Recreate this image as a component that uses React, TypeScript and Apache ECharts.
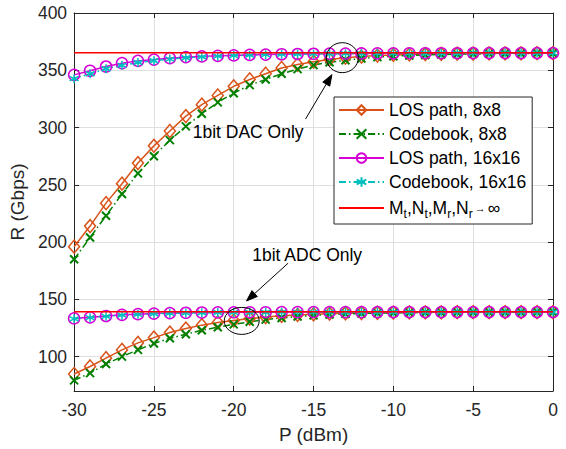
import React, { useEffect, useRef } from "react";
import * as echarts from "echarts";

// Transmit power P (dBm)
const P = [-30, -29, -28, -27, -26, -25, -24, -23, -22, -21, -20, -19, -18, -17, -16, -15, -14, -13, -12, -11, -10, -9, -8, -7, -6, -5, -4, -3, -2, -1, 0];

// 1bit DAC only (upper group)
const los8Dac = [196, 214, 234, 251, 269, 284, 297, 310, 320, 328, 336, 342, 347, 352, 355, 357.5, 359.5, 361, 362, 362.8, 363.4, 363.8, 364.1, 364.3, 364.5, 364.6, 364.7, 364.8, 364.8, 364.9, 364.9];
const cb8Dac = [185, 204, 223, 242, 260, 275, 289, 301, 312, 322, 330, 337, 342, 347, 351, 354.5, 357, 358.7, 360.3, 361.5, 362.3, 362.9, 363.4, 363.8, 364.1, 364.3, 364.5, 364.6, 364.7, 364.8, 364.8];
const los16Dac = [346, 349.6, 353.3, 356.2, 358.2, 359.3, 360.6, 361.5, 362.1, 362.6, 363, 363.4, 363.7, 364, 364.2, 364.4, 364.5, 364.6, 364.7, 364.8, 364.8, 364.9, 364.9, 364.9, 364.9, 365, 365, 365, 365, 365, 365];
const cb16Dac = [342.7, 347, 351.3, 354.3, 356.8, 358.3, 359.8, 360.9, 361.7, 362.3, 362.8, 363.2, 363.6, 363.9, 364.1, 364.3, 364.4, 364.5, 364.6, 364.7, 364.8, 364.8, 364.9, 364.9, 364.9, 365, 365, 365, 365, 365, 365];
const limitDac = [365.3, 365.3];

// 1bit ADC only (lower group)
const los8Adc = [84.8, 91.4, 98.7, 105.9, 112, 116.6, 121, 124.5, 127.5, 129.9, 131.6, 133.2, 134.5, 135.6, 136.4, 137, 137.5, 137.9, 138.1, 138.3, 138.5, 138.6, 138.7, 138.7, 138.8, 138.8, 138.8, 138.9, 138.9, 138.9, 138.9];
const cb8Adc = [79.3, 85.6, 93.5, 100, 105.9, 111.5, 116, 119.5, 123, 125.7, 128.2, 130.4, 132.3, 133.8, 135, 136, 136.8, 137.3, 137.7, 138, 138.2, 138.4, 138.5, 138.6, 138.7, 138.7, 138.8, 138.8, 138.8, 138.9, 138.9];
const los16Adc = [133.4, 134.3, 135.5, 136.5, 137.1, 137.6, 138, 138.3, 138.5, 138.6, 138.7, 138.8, 138.8, 138.9, 138.9, 138.9, 138.9, 138.9, 138.9, 138.9, 138.9, 138.9, 138.9, 138.9, 138.9, 138.9, 138.9, 138.9, 138.9, 138.9, 138.9];
const cb16Adc = [133, 134, 135.2, 136.2, 136.9, 137.4, 137.8, 138.1, 138.3, 138.5, 138.6, 138.7, 138.7, 138.8, 138.8, 138.9, 138.9, 138.9, 138.9, 138.9, 138.9, 138.9, 138.9, 138.9, 138.9, 138.9, 138.9, 138.9, 138.9, 138.9, 138.9];
const limitAdc = [139.2, 139.2];
const limitX = [-30, 0];

// Series names
const NAMES = ["LOS path, 8x8", "Codebook, 8x8", "LOS path, 16x16", "Codebook, 16x16", "LIMIT"];

// Annotations (data coordinates)
const dacText = { label: "1bit DAC Only", at: [-19.1, 295.8] };
const dacArrow = { from: [-15.5, 307.5], to: [-13.85, 346.2] };
const dacEllipse = [-13.2, 361];
const adcText = { label: "1bit ADC Only", at: [-15.4, 188.4] };
const adcArrow = { from: [-16.6, 181.5], to: [-19.2, 148.6] };
const adcEllipse = [-19.5, 131.2];

const FONT = "'Liberation Sans', Arial, sans-serif";
const AX = "#262626";
const GRIDC = "#DFDFDF";

const C_ORANGE = "#D95319";
const C_GREEN = "#008000";
const C_MAG = "#D600D6";
const C_CYAN = "#00BFBF";
const C_RED = "#FF0000";

const SYM_X = "path://M0,0L10,10M0,10L10,0";
const SYM_STAR = "path://M5,0L5,10M0.7,2.5L9.3,7.5M0.7,7.5L9.3,2.5";
const DASHDOT = [7, 3, 1.5, 3];

function pair(x: number[], y: number[]) {
  return x.map((v, i) => [v, y[i]]);
}

function mk(name: string, data: number[], color: string, dash: any, symbol: string, size: any, bw: number) {
  return {
    type: "line",
    name,
    data: pair(P, data),
    xAxisIndex: 0,
    yAxisIndex: 0,
    symbol,
    symbolSize: size,
    showSymbol: true,
    lineStyle: { color, width: 1.5, type: dash },
    itemStyle: { color: "rgba(255,255,255,0)", borderColor: color, borderWidth: bw },
    emphasis: { disabled: true },
    z: 2,
  };
}

function limit(data: number[]) {
  return {
    type: "line",
    name: NAMES[4],
    data: pair(limitX, data),
    symbol: "none",
    lineStyle: { color: C_RED, width: 1.5 },
    itemStyle: { color: "rgba(255,255,255,0)", borderColor: "rgba(255,255,255,0)", borderWidth: 0 },
    emphasis: { disabled: true },
    z: 3,
  };
}

export default function App() {
  const ref = useRef<HTMLDivElement>(null);
  useEffect(() => {
    const chart = echarts.init(ref.current!, null, { renderer: "svg" });
    const series: any[] = [
      mk(NAMES[0], los8Dac, C_ORANGE, "solid", "diamond", [11, 13], 1.5),
      mk(NAMES[0], los8Adc, C_ORANGE, "solid", "diamond", [11, 13], 1.5),
      mk(NAMES[1], cb8Dac, C_GREEN, DASHDOT, SYM_X, 8, 2),
      mk(NAMES[1], cb8Adc, C_GREEN, DASHDOT, SYM_X, 8, 2),
      mk(NAMES[2], los16Dac, C_MAG, "solid", "circle", 11, 1.5),
      mk(NAMES[2], los16Adc, C_MAG, "solid", "circle", 11, 1.5),
      mk(NAMES[3], cb16Dac, C_CYAN, DASHDOT, SYM_STAR, 9, 1.5),
      mk(NAMES[3], cb16Adc, C_CYAN, DASHDOT, SYM_STAR, 9, 1.5),
      limit(limitDac),
      limit(limitAdc),
    ];

    const axisCommon = {
      axisLine: { show: true, onZero: false, lineStyle: { color: AX, width: 1 } },
      axisTick: { show: true, inside: true, length: 5, lineStyle: { color: AX } },
    };

    chart.setOption({
      animation: false,
      backgroundColor: "#ffffff",
      textStyle: { fontFamily: FONT },
      grid: { left: 74, right: 13, top: 13, bottom: 56, containLabel: false },
      xAxis: [
        {
          type: "value", min: -30, max: 0, interval: 5, position: "bottom",
          name: "P (dBm)", nameLocation: "middle", nameGap: 34,
          nameTextStyle: { fontSize: 19, color: AX, fontFamily: FONT },
          ...axisCommon,
          axisLabel: { fontSize: 17.5, color: AX, margin: 10, fontFamily: FONT },
          splitLine: { show: true, lineStyle: { color: GRIDC, width: 1 } },
        },
        {
          type: "value", min: -30, max: 0, interval: 5, position: "top",
          ...axisCommon,
          axisLabel: { show: false },
          splitLine: { show: false },
        },
      ],
      yAxis: [
        {
          type: "value", min: 70, max: 400, minInterval: 50, maxInterval: 50, splitNumber: 7, position: "left",
          name: "R (Gbps)", nameLocation: "middle", nameGap: 36,
          nameTextStyle: { fontSize: 19, color: AX, fontFamily: FONT },
          ...axisCommon,
          axisLabel: { fontSize: 17.5, color: AX, margin: 7, showMinLabel: false, fontFamily: FONT },
          splitLine: { show: true, lineStyle: { color: GRIDC, width: 1 } },
        },
        {
          type: "value", min: 70, max: 400, minInterval: 50, maxInterval: 50, splitNumber: 7, position: "right",
          ...axisCommon,
          axisLabel: { show: false },
          splitLine: { show: false },
        },
      ],
      legend: {
        data: NAMES,
        orient: "vertical",
        left: 334,
        top: 97,
        padding: [3, 6, 4, 4],
        itemGap: 4,
        itemWidth: 45,
        itemHeight: 12,
        backgroundColor: "#ffffff",
        borderColor: AX,
        borderWidth: 1,
        borderRadius: 0,
        selectedMode: false,
        z: 10,
        formatter: (n: string) =>
          n === "LIMIT"
            ? "{n|M}{s|t}{n|,N}{s|t}{n|,M}{s|r}{n|,N}{s|r}{a|→}{n|∞}"
            : n,
        textStyle: {
          fontSize: 17.5,
          color: "#000",
          lineHeight: 20,
          fontFamily: FONT,
          rich: {
            n: { fontSize: 17.5, lineHeight: 20, color: "#000", fontFamily: FONT },
            s: { fontSize: 12, lineHeight: 12, padding: [12, 0, 0, 0], color: "#000", fontFamily: FONT },
            a: { fontSize: 11, lineHeight: 12, padding: [0, 2, 0, 2], color: "#000", fontFamily: FONT },
          },
        },
      },
      series,
    });

    const px = (p: number[]) => chart.convertToPixel({ xAxisIndex: 0, yAxisIndex: 0 }, p) as number[];

    const arrow = (a: { from: number[]; to: number[] }) => {
      const s = px(a.from);
      const t = px(a.to);
      const dx = t[0] - s[0];
      const dy = t[1] - s[1];
      const len = Math.hypot(dx, dy);
      const ux = dx / len;
      const uy = dy / len;
      const L = 11;
      const W = 4;
      const bx = t[0] - ux * L;
      const by = t[1] - uy * L;
      return [
        {
          type: "line",
          shape: { x1: s[0], y1: s[1], x2: bx, y2: by },
          style: { stroke: "#000", lineWidth: 1 },
          z: 20,
        },
        {
          type: "polygon",
          shape: { points: [[t[0], t[1]], [bx - uy * W, by + ux * W], [bx + uy * W, by - ux * W]] },
          style: { fill: "#000", stroke: "#000", lineWidth: 1 },
          z: 20,
        },
      ];
    };
    const ell = (c: number[], rx: number, ry: number) => {
      const p = px(c);
      return {
        type: "ellipse",
        shape: { cx: p[0], cy: p[1], rx, ry },
        style: { fill: "none", stroke: "#000", lineWidth: 1 },
        z: 20,
      };
    };
    const txt = (t: { label: string; at: number[] }) => {
      const p = px(t.at);
      return {
        type: "text",
        x: p[0],
        y: p[1],
        style: {
          text: t.label,
          fontSize: 17.5,
          fontFamily: FONT,
          fill: "#000",
          align: "center",
          verticalAlign: "middle",
        },
        z: 20,
      };
    };

    chart.setOption({
      graphic: [
        ell(dacEllipse, 16, 15),
        ell(adcEllipse, 17.5, 13.5),
        ...arrow(dacArrow),
        ...arrow(adcArrow),
        txt(dacText),
        txt(adcText),
      ],
    });

    return () => chart.dispose();
  }, []);

  return (
    <div
      ref={ref}
      style={{ position: "absolute", left: 0, top: 0, width: 566, height: 449, background: "#ffffff" }}
    />
  );
}
